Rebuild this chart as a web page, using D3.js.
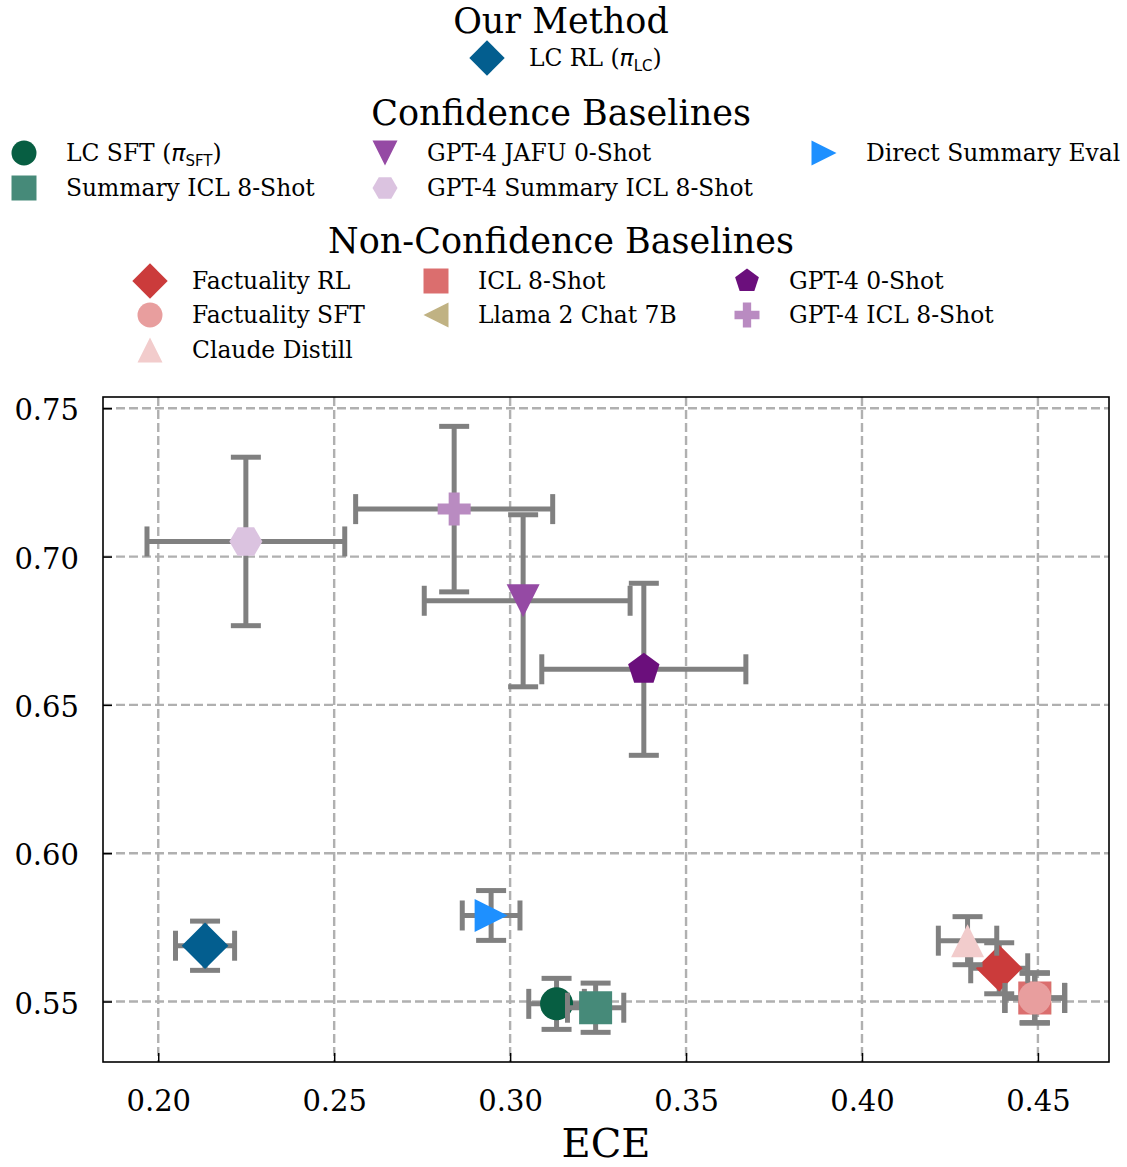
<!DOCTYPE html>
<html>
<head>
<meta charset="utf-8">
<script src="https://cdn.jsdelivr.net/npm/d3@7/dist/d3.min.js"></script>
<style>
body { margin: 0; background: #fff; }
svg text { font-family: "DejaVu Serif", serif; fill: #000; }
</style>
</head>
<body>
<svg width="1127" height="1167"></svg>
<script>
// values: ECE (x) vs accuracy (y), with error bars
var names = ["LC RL (π_LC)", "LC SFT (π_SFT)", "Summary ICL 8-Shot", "GPT-4 JAFU 0-Shot",
    "GPT-4 Summary ICL 8-Shot", "Direct Summary Eval", "Factuality RL", "Factuality SFT",
    "Claude Distill", "ICL 8-Shot", "Llama 2 Chat 7B", "GPT-4 0-Shot", "GPT-4 ICL 8-Shot"];
var groups = ["our", "conf", "conf", "conf", "conf", "conf", "non", "non", "non", "non", "non", "non", "non"];
var ece      = [0.2133, 0.3132, 0.3243, 0.3037, 0.2249, 0.2946, 0.4390, 0.4491, 0.4300, 0.4491, 0.4491, 0.3380, 0.2841];
var eceErrLo = [0.0084, 0.0079, 0.0080, 0.0281, 0.0281, 0.0082, 0.0081, 0.0085, 0.0083, 0.0085, 0.0085, 0.0290, 0.0280];
var eceErrHi = [0.0084, 0.0079, 0.0080, 0.0304, 0.0281, 0.0082, 0.0081, 0.0085, 0.0083, 0.0085, 0.0085, 0.0290, 0.0280];
var acc      = [0.5688, 0.5492, 0.5479, 0.6851, 0.7051, 0.5790, 0.5612, 0.5512, 0.5705, 0.5512, 0.5512, 0.6620, 0.7160];
var accErr   = [0.0083, 0.0086, 0.0083, 0.0290, 0.0284, 0.0084, 0.0086, 0.0084, 0.0081, 0.0084, 0.0084, 0.0290, 0.0279];
var colors = ["#035e8f", "#075e42", "#468a79", "#954aa4", "#dbc3e0", "#1e90ff", "#cb3b3b",
    "#e89e9e", "#f2cccc", "#db6e6e", "#c0b283", "#6b0f7c", "#b98bc1"];
var shapes = ["diamond", "circle", "square", "tri-down", "hexagon", "tri-right", "diamond",
    "circle", "tri-up", "square", "tri-left", "pentagon", "plus"];
var drawOrder = [0, 1, 2, 3, 4, 5, 10, 9, 6, 7, 8, 11, 12];

var groupTitles = {our: "Our Method", conf: "Confidence Baselines", non: "Non-Confidence Baselines"};
var xTicks = [0.20, 0.25, 0.30, 0.35, 0.40, 0.45];
var yTicks = [0.55, 0.60, 0.65, 0.70, 0.75];

var svg = d3.select("svg");
var plotL = 103, plotR = 1109, plotT = 397, plotB = 1062;

var x = d3.scaleLinear().domain([0.1843, 0.4702]).range([plotL, plotR]);
var y = d3.scaleLinear().domain([0.5296, 0.7538]).range([plotB, plotT]);

function markerPath(shape, ms) {
    var h = ms / 2, p = d3.path(), pts = null, i, a;
    if (shape == "circle") {
        p.arc(0, 0, h, 0, 2 * Math.PI);
        return p.toString();
    }
    if (shape == "square") pts = [[-h, -h], [h, -h], [h, h], [-h, h]];
    if (shape == "diamond") { var d = h * Math.SQRT2; pts = [[0, -d], [d, 0], [0, d], [-d, 0]]; }
    if (shape == "tri-up") pts = [[0, -h], [h, h], [-h, h]];
    if (shape == "tri-down") pts = [[0, h], [h, -h], [-h, -h]];
    if (shape == "tri-right") pts = [[h, 0], [-h, -h], [-h, h]];
    if (shape == "tri-left") pts = [[-h, 0], [h, -h], [h, h]];
    if (shape == "pentagon") {
        pts = [];
        for (i = 0; i < 5; i++) { a = (-90 + 72 * i) * Math.PI / 180; pts.push([h * Math.cos(a), h * Math.sin(a)]); }
    }
    if (shape == "hexagon") {
        pts = [];
        for (i = 0; i < 6; i++) { a = (60 * i) * Math.PI / 180; pts.push([h * Math.cos(a), h * Math.sin(a)]); }
    }
    if (shape == "plus") {
        var t = ms / 6;
        pts = [[-t, -h], [t, -h], [t, -t], [h, -t], [h, t], [t, t], [t, h], [-t, h], [-t, t], [-h, t], [-h, -t], [-t, -t]];
    }
    p.moveTo(pts[0][0], pts[0][1]);
    for (i = 1; i < pts.length; i++) p.lineTo(pts[i][0], pts[i][1]);
    p.closePath();
    return p.toString();
}

// label text with optional math part "(π_sub)"
function addLabel(sel, label) {
    var m = label.match(/^(.*)\(π_(\w+)\)$/);
    if (!m) { sel.text(label); return; }
    sel.append("tspan").text(m[1] + "(");
    sel.append("tspan").style("font-family", "DejaVu Sans").style("font-style", "italic").text("π");
    sel.append("tspan").style("font-family", "DejaVu Sans").style("font-size", "15px")
        .attr("dy", 5).text(m[2]);
    sel.append("tspan").attr("dy", -5).text(")");
}

// grid
var grid = svg.append("g").attr("class", "grid")
    .attr("stroke", "#b0b0b0").attr("stroke-width", 2.4).attr("stroke-dasharray", "9,4");
grid.selectAll("line.gx").data(xTicks).enter().append("line")
    .attr("x1", function(d) { return x(d); }).attr("x2", function(d) { return x(d); })
    .attr("y1", plotT).attr("y2", plotB);
grid.selectAll("line.gy").data(yTicks).enter().append("line")
    .attr("y1", function(d) { return y(d); }).attr("y2", function(d) { return y(d); })
    .attr("x1", plotL).attr("x2", plotR);

// axes, ticks pointing in
var xAxis = svg.append("g").attr("transform", "translate(0," + plotB + ")")
    .call(d3.axisBottom(x).tickValues(xTicks).tickSize(-9).tickFormat(d3.format(".2f")));
var yAxis = svg.append("g").attr("transform", "translate(" + plotL + ",0)")
    .call(d3.axisLeft(y).tickValues(yTicks).tickSize(-9).tickPadding(24).tickFormat(d3.format(".2f")));
[xAxis, yAxis].forEach(function(a) {
    a.select(".domain").remove();
    a.selectAll(".tick line").attr("stroke", "#000").attr("stroke-width", 1.5);
    a.selectAll(".tick text").style("font-family", "DejaVu Serif").style("font-size", "29px").attr("fill", "#000");
});
xAxis.selectAll(".tick text").attr("dy", 0).attr("y", 49);
yAxis.selectAll(".tick text").attr("dy", "0.4em");

// points with error bars
var pts = svg.append("g").attr("class", "points");
drawOrder.forEach(function(i) {
    var g = pts.append("g");
    var cx = x(ece[i]), cy = y(acc[i]);
    var x0 = x(ece[i] - eceErrLo[i]), x1 = x(ece[i] + eceErrHi[i]);
    var y0 = y(acc[i] - accErr[i]), y1 = y(acc[i] + accErr[i]);
    var cap = 15;
    var segs = [[x0, cy, x1, cy], [cx, y0, cx, y1],
        [x0, cy - cap, x0, cy + cap], [x1, cy - cap, x1, cy + cap],
        [cx - cap, y0, cx + cap, y0], [cx - cap, y1, cx + cap, y1]];
    g.selectAll("line").data(segs).enter().append("line")
        .attr("x1", function(s) { return s[0]; }).attr("y1", function(s) { return s[1]; })
        .attr("x2", function(s) { return s[2]; }).attr("y2", function(s) { return s[3]; })
        .attr("stroke", "#808080").attr("stroke-width", 5);
    g.append("path")
        .attr("d", markerPath(shapes[i], 33))
        .attr("transform", "translate(" + cx + "," + cy + ")")
        .attr("fill", colors[i]);
});

// frame
svg.append("rect").attr("x", plotL).attr("y", plotT)
    .attr("width", plotR - plotL).attr("height", plotB - plotT)
    .attr("fill", "none").attr("stroke", "#000").attr("stroke-width", 1.6);

svg.append("text").attr("x", (plotL + plotR) / 2).attr("y", 1157)
    .attr("text-anchor", "middle").style("font-size", "40px").text("ECE");

// legends, three blocks with titles
var legendLayout = {
    our:  {title: 33,  cols: [487], rows: [58]},
    conf: {title: 125, cols: [24, 385, 824], rows: [153, 188]},
    non:  {title: 253, cols: [150, 436, 747], rows: [281, 315, 350]}
};
var leg = svg.append("g").attr("class", "legend");
Object.keys(groupTitles).forEach(function(key) {
    var lay = legendLayout[key];
    var idx = d3.range(names.length).filter(function(i) { return groups[i] == key; });
    leg.append("text").attr("x", 561).attr("y", lay.title)
        .attr("text-anchor", "middle").style("font-size", "35px").text(groupTitles[key]);
    var ncol = lay.cols.length;
    // column-major fill, like matplotlib ncol
    var per = [], rest = idx.length;
    for (var c = 0; c < ncol; c++) { var n = Math.ceil(rest / (ncol - c)); per.push(n); rest -= n; }
    var k = 0;
    per.forEach(function(n, c) {
        for (var r = 0; r < n; r++, k++) {
            var i = idx[k];
            var gx = lay.cols[c], gy = lay.rows[r];
            leg.append("path").attr("d", markerPath(shapes[i], 25))
                .attr("transform", "translate(" + gx + "," + gy + ")").attr("fill", colors[i]);
            var t = leg.append("text").attr("x", gx + 42).attr("y", gy + 8).style("font-size", "23.4px");
            addLabel(t, names[i]);
        }
    });
});
</script>
</body>
</html>
